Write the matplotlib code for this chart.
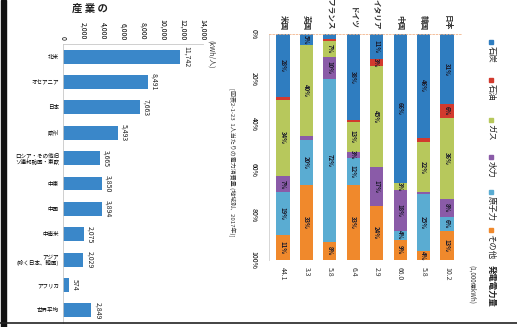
import numpy as np
import matplotlib
matplotlib.use('Agg')
import matplotlib.pyplot as plt
from matplotlib.patches import Rectangle

plt.rcParams['font.family'] = ['Noto Sans CJK JP', 'DejaVu Sans']

# DATA

# left: electricity consumption per person by region (kWh/person)
regions = ['北米', 'オセアニア', '日本', '欧州', 'ロシア・その他旧\nソ連邦諸国・東欧', '中東', '中国',
           '中南米', 'アジア\n(除く日本、韓国)', 'アフリカ', '世界平均']
per_capita = [11742, 8491, 7663, 5493, 3665, 3850, 3894, 2075, 2029, 574, 2849]
per_capita_ticks = [0, 2000, 4000, 6000, 8000, 10000, 12000, 14000]

# right: generation mix by country (%)
countries = ['米国', '英国', 'フランス', 'ドイツ', 'イタリア', '中国', '韓国', '日本']
sources = ['石炭', '石油', 'ガス', '水力', '原子力', 'その他']
coal = [28, 5, 2, 38, 11, 66, 46, 31]
oil = [1, 0, 1, 1, 3, 0, 2, 6]
gas = [34, 40, 7, 13, 45, 3, 22, 36]
hydro = [7, 2, 10, 3, 17, 18, 1, 8]
nuclear = [19, 20, 72, 12, 0, 4, 25, 6]
other = [11, 33, 8, 33, 24, 9, 4, 13]
totals = ['44.1', '3.3', '5.8', '6.4', '2.9', '66.0', '5.8', '10.2']
pct_ticks = [0, 20, 40, 60, 80, 100]

src_colors = ['#2f7dc0', '#d23a2e', '#b7c85c', '#8a5ba8', '#5aacd2', '#f0892c']
bar_blue = '#3a87c9'

W, H = 517, 327
fig = plt.figure(figsize=(W / 100, H / 100), dpi=100)


def box(x0, y0, x1, y1):
    # pixel box (top-left origin) -> figure fraction
    return [x0 / W, 1 - y1 / H, (x1 - x0) / W, (y1 - y0) / H]


# LEFT CHART
ax1 = fig.add_axes(box(63, 44, 203, 323))
y = np.arange(len(regions))
ax1.barh(y, per_capita, height=0.55, color=bar_blue)
ax1.set_xlim(0, 14000)
ax1.set_ylim(len(regions) - 0.5, -0.5)
ax1.xaxis.tick_top()
ax1.set_xticks(per_capita_ticks)
ax1.set_xticklabels(['{:,}'.format(t) for t in per_capita_ticks], rotation=-90,
                    fontsize=5, va='bottom', ha='center')
ax1.set_yticks(y)
ax1.set_yticklabels(regions, fontsize=4, linespacing=1.1)
ax1.tick_params(length=0, pad=3)
for s in ['right', 'bottom']:
    ax1.spines[s].set_visible(False)
for s in ['left', 'top']:
    ax1.spines[s].set_color('#c8c8c8')
    ax1.spines[s].set_linewidth(0.6)
for yi, v in zip(y, per_capita):
    ax1.text(v + 250, yi, '{:,}'.format(v), rotation=-90, fontsize=5,
             ha='left', va='center', color='#222222')

# RIGHT CHART
ax2 = fig.add_axes(box(269, 34, 461, 260))
x = np.arange(len(countries))
bottom = np.zeros(len(countries))
for vals, col in zip([coal, oil, gas, hydro, nuclear, other], src_colors):
    vals = np.array(vals, dtype=float)
    ax2.bar(x, vals, bottom=bottom, width=0.56, color=col)
    for xi, b, v in zip(x, bottom, vals):
        if v >= 3:
            ax2.text(xi, b + v / 2, '{}%'.format(int(v)), rotation=-90, fontsize=4.3,
                     ha='center', va='center', color='#1a1a2a', fontweight='bold')
    bottom += vals
ax2.set_xlim(-0.6, len(countries) - 0.4)
ax2.set_ylim(100, 0)
ax2.xaxis.tick_top()
ax2.set_xticks(x)
ax2.set_xticklabels(countries, rotation=-90, fontsize=5.5, va='bottom', ha='center',
                    fontweight='bold', color='#333333')
ax2.set_yticks(pct_ticks)
ax2.set_yticklabels(['{}%'.format(p) for p in pct_ticks], rotation=-90, fontsize=5,
                    va='center')
ax2.tick_params(length=0, pad=8)
ax2.tick_params(axis='x', pad=3)
for s in ['right', 'bottom']:
    ax2.spines[s].set_visible(False)
ax2.spines['top'].set_color('#f2b48a')
ax2.spines['top'].set_linestyle((0, (2, 2)))
ax2.spines['top'].set_linewidth(0.6)
ax2.spines['left'].set_color('#d0d0d0')
ax2.spines['left'].set_linewidth(0.6)
for xi, t in zip(x, totals):
    ax2.text(xi, 103, t, rotation=-90, fontsize=5, ha='center', va='top', color='#333333')

# OVERLAY (annotations, legend, page border)
ov = fig.add_axes([0, 0, 1, 1])
ov.set_xlim(0, W)
ov.set_ylim(H, 0)
ov.axis('off')
ov.patch.set_alpha(0)

ov.text(90, 9, '産 業 の', fontsize=7.5, fontweight='bold', ha='center', va='center', color='#222222')
ov.text(211, 40, '(kWh/人)', rotation=-90, fontsize=5, ha='center', va='top', color='#333333')
ov.text(232, 88, '[図表2-1-23  1人当たりの電力消費量 (地域別、2017年)]', rotation=-90,
        fontsize=4.3, ha='center', va='top', color='#333333')

leg_y = [40, 78, 118, 155, 190, 228]
for ly, name, col in zip(leg_y, sources, src_colors):
    ov.add_patch(Rectangle((489, ly), 4, 4, color=col))
    ov.text(491, ly + 6, name, rotation=-90, fontsize=6, ha='center', va='top', color='#222222')
ov.text(491, 265, '発電電力量', rotation=-90, fontsize=6, ha='center', va='top',
        fontweight='bold', color='#222222')
ov.text(472, 265, '(1,000億kWh)', rotation=-90, fontsize=4.5, ha='center', va='top', color='#333333')

ov.add_patch(Rectangle((1, 0), 5, H, color='#111111'))
ov.plot([0, W], [323, 323], color='#222222', lw=1.2)

fig.savefig('out.png', dpi=100, facecolor='white')
